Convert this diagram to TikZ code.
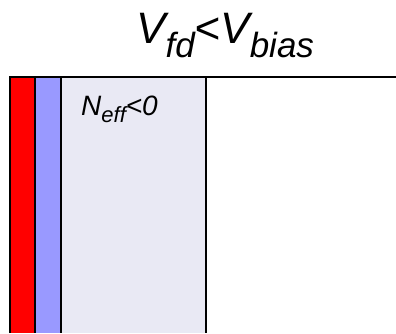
\documentclass[tikz,border=0pt]{standalone}
\usepackage{fontspec}
\setmainfont{Liberation Sans}
\definecolor{sred}{RGB}{255,0,0}
\definecolor{sblue}{RGB}{153,153,255}
\definecolor{slight}{RGB}{233,233,244}
\newcommand{\sbx}[2]{\raisebox{-#1}{#2}}
\begin{document}
\begin{tikzpicture}[x=1pt,y=-1pt,
  edge/.style={line width=2pt,black},
  lbl/.style={inner sep=0pt,anchor=base west}]
\useasboundingbox (0,0) rectangle (396,333);
\fill[sred] (10,77) rectangle (35,333);
\fill[sblue] (35,77) rectangle (61,333);
\fill[slight] (61,77) rectangle (206,333);
\coordinate (tl) at (10,77);
\coordinate (tr) at (396,77);
\coordinate (bl) at (10,333);
\draw[edge] (tr) -- (tl) -- (bl);
\foreach \x in {35,61,206} \draw[edge] (\x,77) -- (\x,333);
\node[lbl] (title) at (136,43) {\fontsize{44}{44}\selectfont\itshape V\sbx{14pt}{\fontsize{35}{35}\selectfont fd}<V\sbx{14pt}{\fontsize{35}{35}\selectfont bias}};
\node[lbl] (neff) at (81,115) {\fontsize{28}{28}\selectfont\itshape N\sbx{7pt}{\fontsize{22}{22}\selectfont eff}<0};
\end{tikzpicture}
\end{document}
